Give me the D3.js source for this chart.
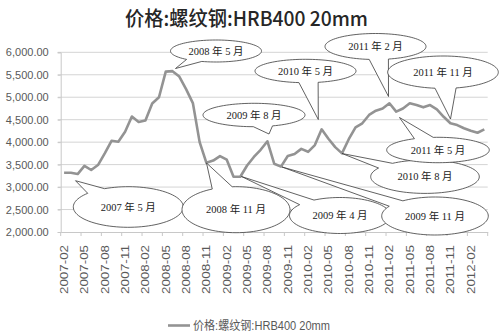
<!DOCTYPE html>
<html><head><meta charset="utf-8">
<script src="https://cdn.jsdelivr.net/npm/d3@7/dist/d3.min.js"></script>
<style>body{margin:0;background:#fff}svg{display:block}</style>
</head><body>
<svg id="c" width="500" height="335"></svg>
<script>
const titleText = "价格:螺纹钢:HRB400 20mm";
const seriesName = "价格:螺纹钢:HRB400 20mm";
const months = [
 "2007-02","2007-03","2007-04","2007-05","2007-06","2007-07","2007-08","2007-09","2007-10","2007-11","2007-12",
 "2008-01","2008-02","2008-03","2008-04","2008-05","2008-06","2008-07","2008-08","2008-09","2008-10","2008-11","2008-12",
 "2009-01","2009-02","2009-03","2009-04","2009-05","2009-06","2009-07","2009-08","2009-09","2009-10","2009-11","2009-12",
 "2010-01","2010-02","2010-03","2010-04","2010-05","2010-06","2010-07","2010-08","2010-09","2010-10","2010-11","2010-12",
 "2011-01","2011-02","2011-03","2011-04","2011-05","2011-06","2011-07","2011-08","2011-09","2011-10","2011-11","2011-12",
 "2012-01","2012-02","2012-03","2012-04"];
const prices = [
 3320,3320,3290,3470,3380,3490,3750,4030,4010,4230,4570,
 4450,4480,4860,5000,5570,5580,5460,5180,4870,4000,3540,3590,
 3690,3610,3230,3230,3480,3670,3830,4020,3520,3455,3690,3735,
 3850,3785,3935,4285,4075,3890,3750,4065,4330,4420,4605,4700,
 4750,4865,4680,4750,4865,4825,4775,4825,4730,4565,4420,4380,
 4310,4255,4210,4285];
const yTicks = [2000,2500,3000,3500,4000,4500,5000,5500,6000];
const xTickLabels = ["2007-02","2007-05","2007-08","2007-11","2008-02","2008-05","2008-08","2008-11",
 "2009-02","2009-05","2009-08","2009-11","2010-02","2010-05","2010-08","2010-11",
 "2011-02","2011-05","2011-08","2011-11","2012-02"];
const calloutLabels = ["2008 年 5 月","2010 年 5 月","2011 年 2 月","2011 年 11 月","2009 年 8 月",
 "2007 年 5 月","2008 年 11 月","2009 年 4 月","2009 年 11 月","2010 年 8 月","2011 年 5 月"];
// annotation layout (pixels): ellipse centre/radii and tail tip
const calloutLayout = [
 {cx:216,cy:51,rx:45.5,ry:11,tx:175.5,ty:68.5},
 {cx:305.5,cy:71,rx:50.5,ry:11.7,tx:318.3,ty:119.5},
 {cx:375.5,cy:46.5,rx:50.5,ry:13,tx:388.5,ty:96.5},
 {cx:443,cy:72.2,rx:55.3,ry:16.2,tx:450.5,ty:119},
 {cx:254,cy:115,rx:51,ry:11.7,tx:269,ty:134},
 {cx:128.3,cy:207,rx:55,ry:20.3,tx:75.5,ty:180.7},
 {cx:236,cy:209.7,rx:54,ry:23,tx:206.5,ty:163},
 {cx:340,cy:215.5,rx:50.5,ry:18,tx:241.5,ty:176.5},
 {cx:435,cy:216,rx:53.3,ry:19,tx:282,ty:167},
 {cx:425,cy:176.7,rx:54.3,ry:16.7,tx:342,ty:153.5},
 {cx:438,cy:150,rx:51.3,ry:12.7,tx:399.5,ty:117.5}
];

const svg = d3.select("#c");
const L = 60.7, R = 487.7, T = 52.3, B = 232;
const x = d3.scaleBand().domain(months).range([L, R]);
const y = d3.scaleLinear().domain([2000, 6000]).range([B, T]);
const labelFont = "'Liberation Sans', 'Noto Sans CJK SC', sans-serif";

// title
svg.append("text").attr("x", 246.5).attr("y", 25.5).attr("text-anchor", "middle")
  .attr("font-family", "'Noto Sans CJK SC', sans-serif").attr("font-size", 20).attr("font-weight", 500)
  .attr("fill", "#262626").attr("textLength", 243).attr("lengthAdjust", "spacingAndGlyphs").text(titleText);

// gridlines
svg.append("g").selectAll("line").data(yTicks.filter(v => v > 2000)).join("line")
  .attr("x1", L - 3).attr("x2", R).attr("y1", d => y(d)).attr("y2", d => y(d))
  .attr("stroke", "#d4d4d4").attr("stroke-width", 1);

// y axis
const yAxis = d3.axisLeft(y).tickValues(yTicks).tickFormat(d3.format(",.2f")).tickSize(3).tickPadding(9);
const gy = svg.append("g").attr("transform", `translate(${L},0)`).call(yAxis);
gy.select(".domain").attr("stroke", "#c8c8c8");
gy.selectAll(".tick line").attr("stroke", "#c8c8c8");
gy.selectAll("text").attr("font-family", labelFont).attr("font-size", 11).attr("fill", "#595959");

// x axis
const xAxis = d3.axisBottom(x).tickValues(xTickLabels).tickSize(0).tickFormat(d => d);
const gx = svg.append("g").attr("transform", `translate(0,${B})`).call(xAxis);
gx.select(".domain").attr("stroke", "#c8c8c8");
gx.selectAll("text").attr("font-family", labelFont).attr("font-size", 11.5).attr("fill", "#595959")
  .attr("text-anchor", "end").attr("transform", "rotate(-90)")
  .attr("x", -13).attr("y", 0).attr("dy", "0.35em")
  .attr("textLength", 49).attr("lengthAdjust", "spacingAndGlyphs");
// category-boundary tick marks every 3 months
const tickXs = xTickLabels.map(m => x(m)).concat([R]);
svg.append("g").selectAll("line").data(tickXs).join("line")
  .attr("x1", d => d).attr("x2", d => d).attr("y1", B).attr("y2", B + 4)
  .attr("stroke", "#c8c8c8");

// series line
const line = d3.line().x((d, i) => x(months[i]) + x.bandwidth() / 2).y(d => y(d));
svg.append("path").datum(prices).attr("d", line).attr("fill", "none")
  .attr("stroke", "#939393").attr("stroke-width", 2.6).attr("stroke-linejoin", "round");

// callouts
function calloutPath(c) {
  const ang = Math.atan2((c.ty - c.cy) / c.ry, (c.tx - c.cx) / c.rx);
  const half = 11 * Math.PI / 180;
  const a0 = ang + half, a1 = ang - half + 2 * Math.PI;
  const pts = [];
  const n = 90;
  for (let k = 0; k <= n; k++) {
    const a = a0 + (a1 - a0) * k / n;
    pts.push([c.cx + c.rx * Math.cos(a), c.cy + c.ry * Math.sin(a)]);
  }
  pts.push([c.tx, c.ty]);
  return "M" + pts.map(p => p[0].toFixed(2) + "," + p[1].toFixed(2)).join("L") + "Z";
}
const gc = svg.append("g");
calloutLabels.forEach((lab, i) => {
  const c = calloutLayout[i];
  gc.append("path").attr("d", calloutPath(c)).attr("fill", "#fff")
    .attr("stroke", "#3a3a3a").attr("stroke-width", 0.8).attr("stroke-linejoin", "miter");
  gc.append("text").attr("x", c.cx).attr("y", c.cy).attr("dy", "0.36em").attr("text-anchor", "middle")
    .attr("font-family", "'Liberation Serif', 'Noto Sans CJK SC', serif").attr("font-size", 10.5)
    .attr("fill", "#1a1a1a").text(lab);
});

// legend
svg.append("line").attr("x1", 168).attr("x2", 190).attr("y1", 325.5).attr("y2", 325.5)
  .attr("stroke", "#939393").attr("stroke-width", 2.6);
svg.append("text").attr("x", 193).attr("y", 325.5).attr("dy", "0.35em")
  .attr("font-family", labelFont).attr("font-size", 12).attr("fill", "#595959")
  .attr("textLength", 137).attr("lengthAdjust", "spacingAndGlyphs").text(seriesName);
</script>
</body></html>
